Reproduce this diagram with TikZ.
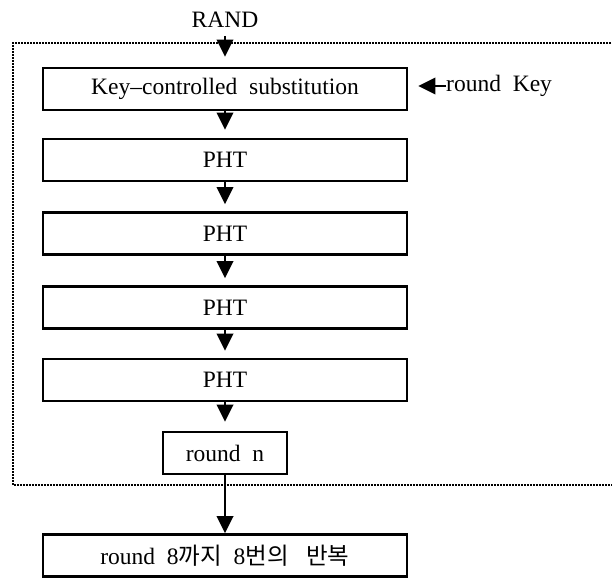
\documentclass[tikz,border=0pt]{standalone}
\usepackage{fontspec}
\setmainfont{Liberation Serif}
\newfontfamily\krfont{Noto Sans CJK KR}
\usetikzlibrary{arrows.meta}

\tikzset{
  stage/.style={draw, line width=2.6pt, minimum width=364pt, minimum height=42pt,
                inner sep=0pt, font=\fontsize{23.5}{27}\selectfont},
  small stage/.style={stage, minimum width=124pt},
  label text/.style={inner sep=0pt, font=\fontsize{23.5}{27}\selectfont},
  flow/.style={line width=2pt, -{Triangle[length=17pt,width=16.5pt]}},
  frame/.style={line width=2.6pt, dash pattern=on 1.7pt off 1.3pt}
}

\begin{document}
\begin{tikzpicture}[x=1pt, y=-1pt]
  \useasboundingbox (0,0) rectangle (612,578);

  % dotted round frame (open towards the right edge)
  \draw[frame] (620,43) -- (13,43) -- (13,485) -- (620,485);

  % input and round key
  \node[label text] (rand) at (225,20) {RAND};
  \node[label text, anchor=west] (rk) at (446,86) {round\ \ Key};

  % round stages
  \node[stage] (key)  at (225,89)   {Key--controlled\ \ substitution};
  \node[stage] (pht1) at (225,160)  {PHT};
  \node[stage] (pht2) at (225,233.5){PHT};
  \node[stage] (pht3) at (225,307.5){PHT};
  \node[stage] (pht4) at (225,380)  {PHT};
  \node[small stage] (rn) at (225,453) {round\ \ n};
  \node[stage] (rep) at (225,555.5) {round\ \ 8{\krfont 까지}\ \ 8{\krfont 번의}\ \ \ {\krfont 반복}};

  % data flow
  \draw[flow, shorten <=8pt, shorten >=10pt] (rand.south) -- (key.north);
  \draw[flow, shorten >=8pt] (key.south)  -- (pht1.north);
  \draw[flow, shorten >=7pt] (pht1.south) -- (pht2.north);
  \draw[flow, shorten >=7pt] (pht2.south) -- (pht3.north);
  \draw[flow, shorten >=7pt] (pht3.south) -- (pht4.north);
  \draw[flow, shorten >=9pt] (pht4.south) -- (rn.north);
  \draw[flow] (rn.south) -- (rep.north);
  \draw[flow, shorten >=10pt] (rk.west) -- (key.east |- rk.west);
\end{tikzpicture}
\end{document}
